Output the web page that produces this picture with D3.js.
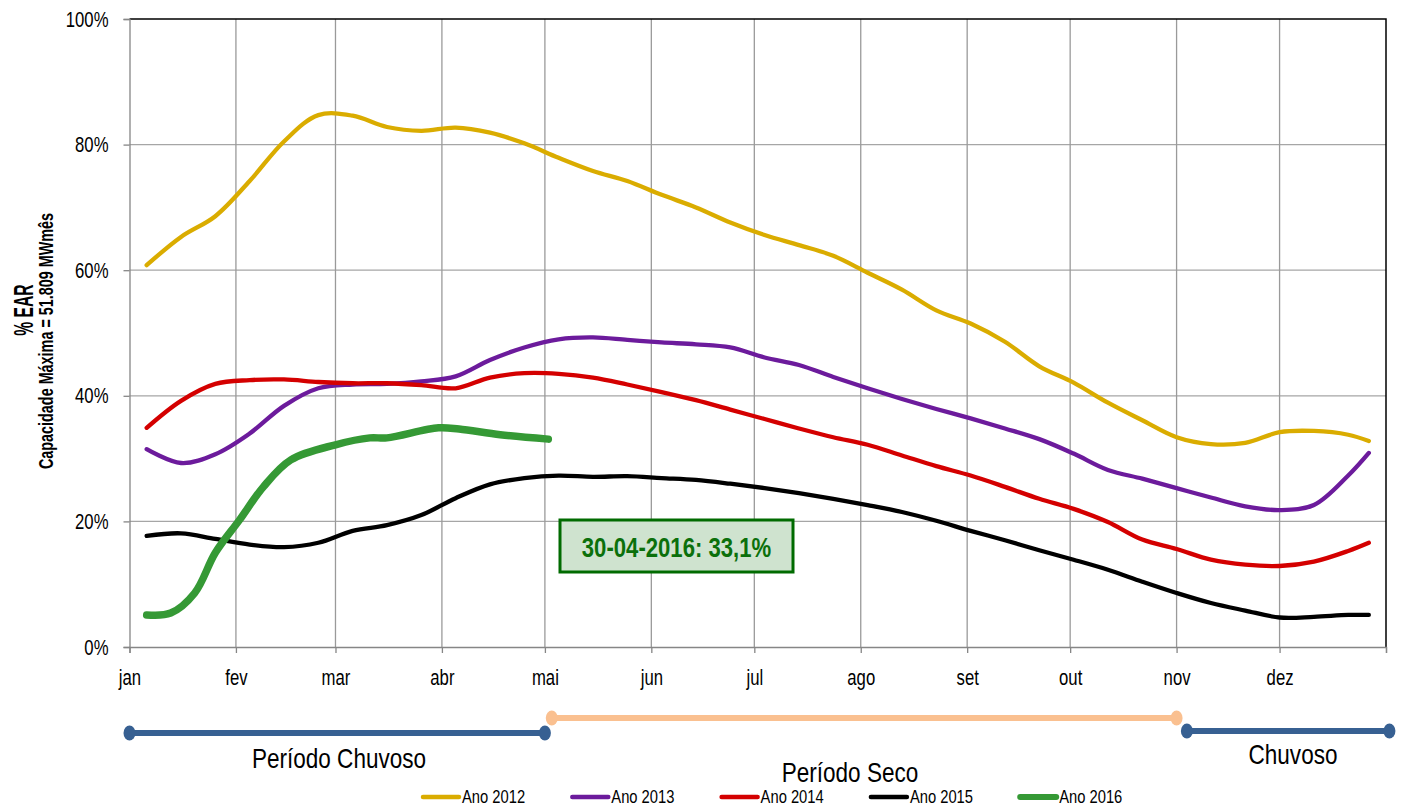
<!DOCTYPE html>
<html>
<head>
<meta charset="utf-8">
<script src="https://cdn.jsdelivr.net/npm/d3@7"></script>
<style>
    body { margin: 0; background: #fff; }
    svg { display: block; }
</style>
</head>
<body>
<div id="chart"></div>
<script>
// chart data
var dates = ["2016-01-06", "2016-01-16", "2016-01-26", "2016-02-05", "2016-02-15", "2016-02-25",
    "2016-03-06", "2016-03-16", "2016-03-26", "2016-04-05", "2016-04-15", "2016-04-25",
    "2016-05-05", "2016-05-15", "2016-05-25", "2016-06-04", "2016-06-14", "2016-06-24",
    "2016-07-04", "2016-07-14", "2016-07-24", "2016-08-03", "2016-08-13", "2016-08-23",
    "2016-09-02", "2016-09-12", "2016-09-22", "2016-10-02", "2016-10-12", "2016-10-22",
    "2016-11-01", "2016-11-11", "2016-11-21", "2016-12-01", "2016-12-11", "2016-12-21", "2016-12-27"];

var ano2012 = [60.8, 65.3, 68.6, 74.2, 80.5, 84.7, 84.6, 82.8, 82.2, 82.7, 81.9, 80.2, 77.9, 75.8, 74.2, 72.0,
    70.0, 67.6, 65.6, 64.0, 62.3, 59.6, 56.9, 53.6, 51.5, 48.6, 44.7, 42.1, 38.9, 36.1, 33.4, 32.3, 32.5,
    34.2, 34.4, 33.8, 32.8];
var ano2013 = [31.5, 29.3, 30.7, 34.0, 38.4, 41.2, 41.8, 41.9, 42.3, 43.1, 45.7, 47.7, 49.0, 49.3, 48.9, 48.5,
    48.2, 47.7, 46.1, 44.9, 43.0, 41.2, 39.5, 37.9, 36.4, 34.8, 33.1, 30.8, 28.2, 26.8, 25.3, 23.8, 22.4,
    21.8, 22.6, 27.3, 30.9];
var ano2014 = [34.9, 39.2, 41.9, 42.5, 42.6, 42.2, 42.0, 42.0, 41.7, 41.2, 42.9, 43.6, 43.5, 42.9, 41.8, 40.6,
    39.3, 37.8, 36.3, 34.8, 33.4, 32.2, 30.5, 28.8, 27.3, 25.5, 23.6, 22.0, 19.9, 17.1, 15.6, 13.9, 13.1,
    12.9, 13.6, 15.3, 16.6];
var ano2015 = [17.7, 18.1, 17.2, 16.3, 15.9, 16.6, 18.5, 19.4, 21.0, 23.7, 25.9, 26.9, 27.3, 27.1, 27.2, 26.9,
    26.6, 26.0, 25.3, 24.5, 23.6, 22.6, 21.5, 20.1, 18.5, 17.0, 15.4, 13.9, 12.3, 10.4, 8.6, 7.0, 5.8,
    4.7, 4.8, 5.1, 5.1];

var dates2016 = ["2016-01-06", "2016-01-13", "2016-01-20", "2016-01-26", "2016-02-02", "2016-02-09", "2016-02-17",
    "2016-03-01", "2016-03-11", "2016-03-16", "2016-03-31", "2016-04-06", "2016-04-18", "2016-05-02"];
var ano2016 = [5.1, 5.4, 8.6, 15.0, 20.2, 25.5, 29.8, 32.2, 33.3, 33.3, 34.9, 34.7, 33.8, 33.1];

var months = ["jan", "fev", "mar", "abr", "mai", "jun", "jul", "ago", "set", "out", "nov", "dez"];
var yTicks = [0, 20, 40, 60, 80, 100];

var seriesNames = ["Ano 2012", "Ano 2013", "Ano 2014", "Ano 2015", "Ano 2016"];
var seriesColors = ["#DAAC00", "#6C1B9C", "#D40000", "#000000", "#359935"];

// rainy / dry season strip under the chart
var periodNames = ["Período Chuvoso", "Período Seco", "Chuvoso"];
var periodStart = ["2016-01-01", "2016-05-03", "2016-11-04"];
var periodEnd = ["2016-05-01", "2016-11-01", "2017-01-02"];

var annotation = "30-04-2016: 33,1%";

// no narrow font installed: squeeze Liberation Sans horizontally instead
var FONT = "'Liberation Sans', Arial, sans-serif";

var W = 1405, H = 809;
var margin = {top: 19, right: 19, bottom: 162, left: 129.5};
var parse = d3.timeParse("%Y-%m-%d");

var svg = d3.select("#chart")
    .append("svg")
    .attr("width", W)
    .attr("height", H)
    .style("font-family", FONT);

// move x/y of a text into a transform so it can be squeezed
function narrow(sel, k) {
    sel.each(function () {
        var t = d3.select(this);
        var tx = +t.attr("x") || 0, ty = +t.attr("y") || 0;
        var prev = t.attr("transform") || "";
        t.attr("x", 0).attr("y", 0)
            .attr("transform", prev + " translate(" + tx + "," + ty + ") scale(" + (k || 0.82) + ",1)");
    });
}

var x = d3.scaleTime()
    .domain([new Date(2016, 0, 1), new Date(2017, 0, 1)])
    .range([margin.left, W - margin.right]);
var y = d3.scaleLinear()
    .domain([0, 100])
    .range([H - margin.bottom, margin.top]);

var monthTicks = d3.timeMonth.range(new Date(2016, 0, 1), new Date(2017, 0, 2));

// grid
svg.append("g")
    .selectAll("line")
    .data(yTicks.slice(1, -1))
    .enter().append("line")
    .attr("x1", x.range()[0]).attr("x2", x.range()[1])
    .attr("y1", function (d) { return y(d); })
    .attr("y2", function (d) { return y(d); })
    .attr("stroke", "#a6a6a6")
    .attr("stroke-width", 1.3);
svg.append("g")
    .selectAll("line")
    .data(monthTicks.slice(1, -1))
    .enter().append("line")
    .attr("x1", function (d) { return x(d); })
    .attr("x2", function (d) { return x(d); })
    .attr("y1", y(0)).attr("y2", y(100))
    .attr("stroke", "#9a9a9a")
    .attr("stroke-width", 1.3);

// frame top and right
svg.append("path")
    .attr("d", "M" + x.range()[0] + "," + y(100) + "H" + x.range()[1] + "V" + y(0))
    .attr("fill", "none")
    .attr("stroke", "#000")
    .attr("stroke-width", 1.5);

// y axis
var yAxis = svg.append("g")
    .attr("transform", "translate(" + x.range()[0] + ",0)")
    .call(d3.axisLeft(y).tickValues(yTicks).tickSize(6).tickPadding(15)
        .tickFormat(function (d) { return d + "%"; }));
yAxis.select(".domain").attr("stroke", "#868686").attr("stroke-width", 1.3);
yAxis.selectAll(".tick line").attr("stroke", "#868686").attr("stroke-width", 1.3);
yAxis.selectAll("text")
    .style("font-family", FONT)
    .style("font-size", "22px")
    .attr("fill", "#000")
    .call(narrow, 0.76);

// x axis
var xAxis = svg.append("g")
    .attr("transform", "translate(0," + y(0) + ")")
    .call(d3.axisBottom(x).tickValues(monthTicks).tickSize(6).tickPadding(16)
        .tickFormat(function (d, i) { return months[i] || ""; }));
xAxis.select(".domain").attr("stroke", "#868686").attr("stroke-width", 1.3);
xAxis.selectAll(".tick line").attr("stroke", "#868686").attr("stroke-width", 1.3);
xAxis.selectAll("text")
    .style("font-family", FONT)
    .style("font-size", "22px")
    .attr("fill", "#000")
    .call(narrow, 0.76);

// y axis titles
svg.append("text")
    .attr("transform", "translate(33,310) rotate(-90) scale(0.58,1)")
    .attr("text-anchor", "middle")
    .style("font-size", "27px")
    .style("font-weight", "bold")
    .text("% EAR");
svg.append("text")
    .attr("transform", "translate(52.5,341) rotate(-90) scale(0.72,1)")
    .attr("text-anchor", "middle")
    .style("font-size", "20px")
    .style("font-weight", "bold")
    .text("Capacidade Máxima = 51.809 MWmês");

// lines
var line = d3.line()
    .x(function (d) { return x(d.date); })
    .y(function (d) { return y(d.value); })
    .curve(d3.curveCatmullRom.alpha(0.5));

function toPoints(ds, vs) {
    return vs.map(function (v, i) { return {date: parse(ds[i]), value: v}; });
}

var series = [
    {name: seriesNames[0], color: seriesColors[0], width: 4.3, points: toPoints(dates, ano2012)},
    {name: seriesNames[1], color: seriesColors[1], width: 4.3, points: toPoints(dates, ano2013)},
    {name: seriesNames[2], color: seriesColors[2], width: 4.3, points: toPoints(dates, ano2014)},
    {name: seriesNames[3], color: seriesColors[3], width: 4.3, points: toPoints(dates, ano2015)},
    {name: seriesNames[4], color: seriesColors[4], width: 7.5, points: toPoints(dates2016, ano2016)}
];

svg.append("g")
    .selectAll("path")
    .data(series)
    .enter().append("path")
    .attr("d", function (d) { return line(d.points); })
    .attr("fill", "none")
    .attr("stroke", function (d) { return d.color; })
    .attr("stroke-width", function (d) { return d.width; })
    .attr("stroke-linecap", "round")
    .attr("stroke-linejoin", "round");

// annotation box
var note = svg.append("g").attr("transform", "translate(560,520)");
note.append("rect")
    .attr("width", 233).attr("height", 52)
    .attr("fill", "#cfe3cf")
    .attr("stroke", "#006b00")
    .attr("stroke-width", 3);
note.append("text")
    .attr("x", 116.5).attr("y", 37)
    .attr("text-anchor", "middle")
    .style("font-size", "27px")
    .style("font-weight", "bold")
    .attr("fill", "#0b700b")
    .text(annotation)
    .call(narrow);

// season strip
var periodY = [733, 718, 731];
var periodColor = ["#376092", "#FAC090", "#376092"];
var labelX = [339, 850, 1293];
var labelY = [768, 782, 764];
var strip = svg.append("g");
periodNames.forEach(function (name, i) {
    var x0 = x(parse(periodStart[i])), x1 = x(parse(periodEnd[i]));
    strip.append("line")
        .attr("x1", x0).attr("x2", x1)
        .attr("y1", periodY[i]).attr("y2", periodY[i])
        .attr("stroke", periodColor[i])
        .attr("stroke-width", 6);
    [x0, x1].forEach(function (cx) {
        strip.append("ellipse")
            .attr("cx", cx).attr("cy", periodY[i])
            .attr("rx", 6).attr("ry", 7.5)
            .attr("fill", periodColor[i]);
    });
    strip.append("text")
        .attr("x", labelX[i]).attr("y", labelY[i])
        .attr("text-anchor", "middle")
        .style("font-size", "27.5px")
        .text(name)
        .call(narrow);
});

// legend
var legend = svg.append("g")
    .selectAll("g")
    .data(series)
    .enter().append("g")
    .attr("transform", function (d, i) { return "translate(" + (421 + i * 149.3) + ",797)"; });
legend.append("line")
    .attr("x1", 2).attr("x2", 38)
    .attr("stroke", function (d) { return d.color; })
    .attr("stroke-width", function (d, i) { return i === 4 ? 6 : 4.5; })
    .attr("stroke-linecap", "round");
legend.append("text")
    .attr("x", 41).attr("y", 6)
    .style("font-size", "18px")
    .text(function (d) { return d.name; })
    .call(narrow);
</script>
</body>
</html>
